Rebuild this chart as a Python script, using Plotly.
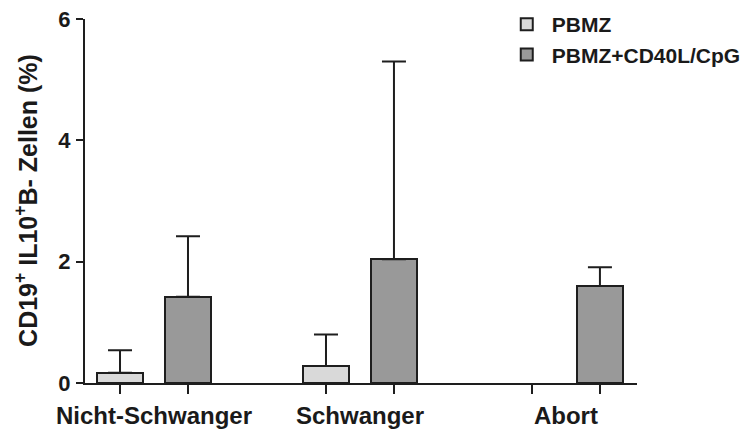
import plotly.graph_objects as go
import numpy as np

categories = ["Nicht-Schwanger", "Schwanger", "Abort"]
series_names = ["PBMZ", "PBMZ+CD40L/CpG"]
pbmz_values = [0.17, 0.28, None]
pbmz_err = [0.37, 0.52, None]
cd40_values = [1.42, 2.04, 1.60]
cd40_err = [1.00, 3.26, 0.31]
y_ticks = [0, 2, 4, 6]
y_title = "CD19<sup>+</sup> IL10<sup>+</sup>B- Zellen (%)"

FONT = "Liberation Sans, Arial, sans-serif"
EDGE = "#1e1e1e"
TXT = "#1a1a1a"

idx = np.arange(len(categories))
offset = 0.165
bw = 0.223

fig = go.Figure()
for vals, errs, name, color, sgn in [
    (pbmz_values, pbmz_err, series_names[0], "#d9d9d9", -1),
    (cd40_values, cd40_err, series_names[1], "#999999", 1),
]:
    fig.add_trace(go.Bar(
        x=idx + sgn * offset, y=vals, width=bw, name=name,
        marker=dict(color=color, line=dict(color=EDGE, width=2)),
        error_y=dict(type="data", array=errs, arrayminus=[0 if e is not None else None for e in errs],
                     symmetric=False, color=EDGE, thickness=2, width=12),
    ))

bar_ticks = list(np.concatenate([idx - offset, idx + offset]))

fig.update_layout(
    width=755, height=429,
    margin=dict(l=85, r=118, t=19, b=46, autoexpand=False),
    plot_bgcolor="white", paper_bgcolor="white",
    font=dict(family=FONT, size=20, color=TXT, weight="bold"),
    showlegend=True,
    legend=dict(x=0.755, y=1.041, xanchor="left", yanchor="top",
                font=dict(family=FONT, size=21, color=TXT, weight="bold"),
                bgcolor="rgba(0,0,0,0)", itemwidth=40),
    bargap=0,
    annotations=[dict(text=y_title, textangle=-90, xref="paper", yref="paper",
                      x=-0.1069, y=0.503, xanchor="center", yanchor="middle",
                      showarrow=False,
                      font=dict(family=FONT, size=25, color=TXT, weight="bold"))],
)
fig.update_xaxes(
    range=[-0.335, 2.345], tickmode="array", tickvals=list(idx), ticktext=categories,
    ticks="", showline=True, linecolor=EDGE, linewidth=2, showgrid=False, zeroline=False,
    automargin=False,
    tickfont=dict(family=FONT, size=24, color=TXT, weight="bold"),
    minor=dict(tickmode="array", tickvals=bar_ticks, ticks="outside", ticklen=9,
               tickwidth=2, tickcolor=EDGE, showgrid=False),
    ticklabelstandoff=10,
)
fig.update_yaxes(
    range=[0, 6], tickmode="array", tickvals=y_ticks, ticks="outside", ticklen=7,
    tickwidth=2, tickcolor=EDGE, showline=True, linecolor=EDGE, linewidth=2,
    showgrid=False, zeroline=False, automargin=False, ticklabelstandoff=1,
    tickfont=dict(family=FONT, size=22, color=TXT, weight="bold"),
)
fig.write_html("out.html")
